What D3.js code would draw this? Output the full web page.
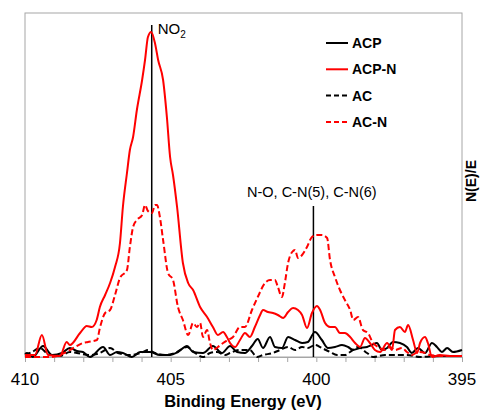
<!DOCTYPE html>
<html><head><meta charset="utf-8">
<script src="https://cdn.jsdelivr.net/npm/d3@7"></script>
<style>body{margin:0;background:#fff}svg{display:block}</style>
</head><body><svg id="c" width="480" height="411"></svg>
<script>
// Binding energy (eV) and intensity (arbitrary units) per series
const acpN_E = [410.00,409.66,409.42,409.21,408.80,408.57,408.46,408.11,407.88,407.71,407.54,407.43,407.25,407.08,406.91,406.74,406.64,406.50,406.40,406.29,406.16,405.98,405.88,405.78,405.67,405.54,405.43,405.26,405.13,405.02,404.92,404.78,404.58,404.40,404.23,403.99,403.75,403.55,403.38,403.20,403.07,402.96,402.79,402.62,402.45,402.28,402.11,401.93,401.83,401.66,401.49,401.32,401.14,400.97,400.80,400.63,400.49,400.32,400.15,399.98,399.87,399.70,399.53,399.36,399.19,399.02,398.84,398.67,398.50,398.33,398.16,397.99,397.81,397.57,397.40,397.30,397.13,396.96,396.85,396.68,396.54,396.44,396.27,396.17,396.03,395.76,395.41,395.00];
const acpN_I = [2,2,22,2,1,15,12,24,31,30,37,50,62,74,90,114,150,184,207,220,247,277,297,320,325,314,297,277,240,200,182,150,94,74,67,50,40,30,22,25,20,14,10,17,24,20,30,42,47,45,44,42,39,45,49,47,42,29,44,51,47,34,30,30,24,24,20,14,10,19,14,7,5,14,7,27,30,25,32,17,4,14,20,14,0,2,1,1];

const acN_E = [410.00,409.73,409.14,408.80,408.46,408.28,408.01,407.84,407.53,407.43,407.25,407.08,406.91,406.74,406.50,406.40,406.29,406.16,405.98,405.88,405.78,405.64,405.54,405.47,405.37,405.26,405.09,404.92,404.75,404.58,404.40,404.23,404.10,403.99,403.89,403.75,403.65,403.55,403.38,403.20,403.03,402.86,402.62,402.45,402.21,402.01,401.76,401.59,401.42,401.32,401.18,401.08,400.97,400.83,400.73,400.63,400.49,400.32,400.15,399.98,399.81,399.63,399.53,399.36,399.19,399.02,398.84,398.73,398.57,398.40,398.23,398.05,397.88,397.64,397.47,397.30,397.06,396.89,396.72,396.51,396.27,396.10,395.58,395.00];
const acN_I = [0,0,0,2,7,10,14,15,17,29,44,47,62,79,87,110,130,137,142,152,146,144,152,152,140,117,84,77,50,37,22,34,30,34,20,27,14,7,10,14,17,20,30,30,47,60,74,77,77,70,60,74,94,105,107,99,102,110,120,122,122,119,97,80,67,57,47,37,40,27,24,14,10,7,10,7,9,5,2,5,4,2,1,1];

const acp_E = [410.00,409.93,409.73,409.38,409.07,408.73,408.46,408.22,408.01,407.77,407.32,407.08,406.84,406.64,406.33,406.05,405.71,405.37,405.02,404.75,404.44,404.23,403.89,403.55,403.24,402.96,402.72,402.45,402.21,402.01,401.83,401.59,401.42,401.18,400.97,400.73,400.49,400.29,400.05,399.81,399.60,399.36,399.12,398.91,398.74,398.50,398.26,398.09,397.92,397.75,397.57,397.37,397.13,396.89,396.72,396.51,396.27,396.03,395.86,395.69,395.51,395.31,395.00];
const acp_I = [3,4,0,11,2,4,9,6,5,0,10,2,5,4,0,5,5,2,2,5,11,5,4,11,4,11,5,4,11,18,9,20,10,9,20,17,14,15,25,17,9,10,12,10,7,9,10,12,14,7,9,15,14,10,4,9,4,14,10,5,9,5,7];

const ac_E = [410.00,409.76,409.49,409.21,408.80,408.46,408.22,407.77,407.43,407.08,406.81,406.40,405.95,405.78,405.54,405.19,404.85,404.44,404.16,403.89,403.65,403.41,403.13,402.96,402.62,402.28,402.04,401.83,401.49,401.25,400.97,400.73,400.49,400.29,400.05,399.81,399.53,399.29,399.02,398.84,398.57,398.26,398.05,397.64,397.23,396.89,396.44,395.76,395.00];
const ac_I = [2,5,9,3,1,5,4,2,4,9,4,2,5,7,4,2,4,10,4,0,4,5,2,4,7,7,0,2,4,7,10,7,10,9,12,9,5,2,2,5,10,4,0,2,2,2,0,1,1];

const seriesNames = ["ACP","ACP-N","AC","AC-N"];
const seriesColors = ["#000000","#ff0000","#000000","#ff0000"];
const seriesDash = [null,null,"6,3","6,3"];
const seriesE = [acp_E, acpN_E, ac_E, acN_E];
const seriesI = [acp_I, acpN_I, ac_I, acN_I];

const xTicks = [410,405,400,395];
const xMinorTicks = d3.range(395,411,1);
const markerE = [405.65, 400.1];
const markerTop = [332, 151];
const markerLabels = ["NO", "N-O, C-N(5), C-N(6)"];

const svg = d3.select("#c");
const L=25, R=462, T=13, B=357;
const x = d3.scaleLinear().domain([410,395]).range([L,R]);
const y = d3.scaleLinear().domain([0,344]).range([B,T]);

// frame
svg.append("rect").attr("x",L).attr("y",T).attr("width",R-L).attr("height",B-T)
  .attr("fill","none").attr("stroke","#a6a6a6").attr("stroke-width",1);

// x axis
const ax = svg.append("g").attr("transform",`translate(0,${B})`)
  .call(d3.axisBottom(x).tickValues(xMinorTicks).tickSize(5).tickFormat(""));
ax.select(".domain").attr("stroke","#a6a6a6");
ax.selectAll(".tick line").attr("stroke","#a6a6a6");
svg.append("g").selectAll("text").data(xTicks).join("text")
  .attr("x",d=>x(d)).attr("y",385).attr("text-anchor","middle")
  .attr("font-family","Liberation Sans, Arial, sans-serif").attr("font-size",17)
  .attr("fill","#000").text(d=>d);
svg.append("text").attr("x",243).attr("y",407).attr("text-anchor","middle")
  .attr("font-family","Liberation Sans, Arial, sans-serif").attr("font-size",16.5)
  .attr("font-weight","bold").text("Binding Energy (eV)");
svg.append("text").attr("transform","translate(476,181) rotate(-90)").attr("text-anchor","middle")
  .attr("font-family","Liberation Sans, Arial, sans-serif").attr("font-size",14)
  .attr("font-weight","bold").text("N(E)/E");

// marker lines
svg.append("g").selectAll("line").data(markerE).join("line")
  .attr("x1",d=>x(d)).attr("x2",d=>x(d)).attr("y1",(d,i)=>y(markerTop[i])).attr("y2",B)
  .attr("stroke","#000").attr("stroke-width",1.5);

// curves
const line = d3.line().curve(d3.curveMonotoneX);
const order = [2,0,3,1];
order.forEach(i=>{
  const pts = seriesE[i].map((e,k)=>[x(e), y(seriesI[i][k])]);
  svg.append("path").attr("d",line(pts)).attr("fill","none")
    .attr("stroke",seriesColors[i]).attr("stroke-width",2)
    .attr("stroke-dasharray",seriesDash[i]).attr("stroke-linejoin","round");
});

// marker labels
const t1 = svg.append("text").attr("x",x(markerE[0])+6).attr("y",34)
  .attr("font-family","Liberation Sans, Arial, sans-serif").attr("font-size",15).text(markerLabels[0]);
t1.append("tspan").attr("font-size",10).attr("dy",4).text("2");
svg.append("text").attr("x",247).attr("y",197)
  .attr("font-family","Liberation Sans, Arial, sans-serif").attr("font-size",14.5).text(markerLabels[1]);

// legend
const lg = svg.append("g");
seriesNames.forEach((n,i)=>{
  const yy = 43 + i*26.3;
  lg.append("line").attr("x1",326).attr("x2",348).attr("y1",yy).attr("y2",yy)
    .attr("stroke",seriesColors[i]).attr("stroke-width",2).attr("stroke-dasharray",seriesDash[i]?"5,3":null);
  lg.append("text").attr("x",352).attr("y",yy+5).attr("font-family","Liberation Sans, Arial, sans-serif")
    .attr("font-size",14).attr("font-weight","bold").text(n);
});
</script></body></html>
